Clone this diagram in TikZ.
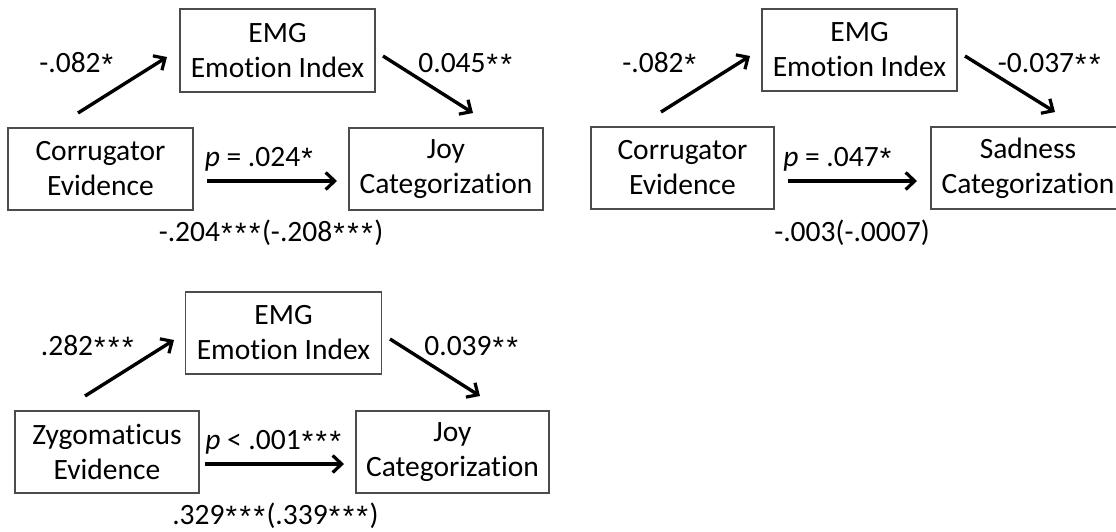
\documentclass[tikz,border=0pt]{standalone}
\usepackage{fontspec}
\setmainfont{Carlito}[Ligatures=NoCommon]
\newfontfamily\astfont{Liberation Sans}
\newcommand\sstar{\kern1pt\raisebox{-2pt}{\astfont *}\kern1.5pt}
\usetikzlibrary{arrows.meta}
\begin{document}
\begin{tikzpicture}[x=1pt,y=-1pt,
  box/.style={draw=black!70, line width=1.3pt, rectangle, inner sep=0pt, align=center,
    font=\fontsize{29.5}{35}\selectfont},
  lbl/.style={anchor=base, inner sep=0pt, font=\fontsize{29.5}{35}\selectfont},
  arr/.style={line width=3.4pt, -{Straight Barb[length=9pt,width=17pt,line width=3.2pt]}}]
\useasboundingbox (0,0) rectangle (1116,531);
\clip (0,0) rectangle (1116,531);
% ---------- Diagram 1 ----------
\node[box, minimum width=195pt, minimum height=83pt] (emg1) at (277.5,50.5) {EMG\\Emotion Index};
\node[box, minimum width=185pt, minimum height=82pt] (cor1) at (100.5,169) {Corrugator\\Evidence};
\node[box, minimum width=194pt, minimum height=82pt] (joy1) at (446,169) {Joy\\Categorization};
\coordinate (u1s) at (78,113);  \coordinate (u1e) at (167,57);
\coordinate (d1s) at (383,56);  \coordinate (d1e) at (473,113);
\coordinate (h1s) at (207,181); \coordinate (h1e) at (337,181);
\draw[arr] (u1s) -- (u1e);
\draw[arr] (d1s) -- (d1e);
\draw[arr] (h1s) -- (h1e);
\node[lbl] (a1) at (77,72) {-.082\sstar};
\node[lbl] (b1) at (466,72) {0.045\sstar\sstar};
\node[lbl] (p1) at (259.5,166) {\textit{p} = .024\sstar};
\node[lbl] (c1) at (271,241) {-.204\sstar\sstar\sstar(-.208\sstar\sstar\sstar)};
% ---------- Diagram 2 ----------
\node[box, minimum width=195pt, minimum height=82pt] (emg2) at (859.5,50) {EMG\\Emotion Index};
\node[box, minimum width=183pt, minimum height=82pt] (cor2) at (682.5,168) {Corrugator\\Evidence};
\node[box, minimum width=194pt, minimum height=82pt] (sad2) at (1028,168) {Sadness\\Categorization};
\coordinate (u2s) at (661,112);  \coordinate (u2e) at (750,56);
\coordinate (d2s) at (965,56);   \coordinate (d2e) at (1055,112);
\coordinate (h2s) at (788,181);  \coordinate (h2e) at (917,181);
\draw[arr] (u2s) -- (u2e);
\draw[arr] (d2s) -- (d2e);
\draw[arr] (h2s) -- (h2e);
\node[lbl] (a2) at (660,72) {-.082\sstar};
\node[lbl] (b2) at (1050,72) {-0.037\sstar\sstar};
\node[lbl] (p2) at (838,166) {\textit{p} = .047\sstar};
\node[lbl] (c2) at (852,241) {-.003(-.0007)};
% ---------- Diagram 3 ----------
\node[box, minimum width=196pt, minimum height=82pt] (emg3) at (283.5,333) {EMG\\Emotion Index};
\node[box, minimum width=184pt, minimum height=82pt] (zyg3) at (107,452) {Zygomaticus\\Evidence};
\node[box, minimum width=193pt, minimum height=82pt] (joy3) at (452.5,452) {Joy\\Categorization};
\coordinate (u3s) at (85,396);   \coordinate (u3e) at (174,340);
\coordinate (d3s) at (390,339);  \coordinate (d3e) at (480,396);
\coordinate (h3s) at (205,464);  \coordinate (h3e) at (344,464);
\draw[arr] (u3s) -- (u3e);
\draw[arr] (d3s) -- (d3e);
\draw[arr] (h3s) -- (h3e);
\node[lbl] (a3) at (88,355) {.282\sstar\sstar\sstar};
\node[lbl] (b3) at (472,355) {0.039\sstar\sstar};
\node[lbl] (p3) at (274,449) {\textit{p} < .001\sstar\sstar\sstar};
\node[lbl] (c3) at (275.5,524) {.329\sstar\sstar\sstar(.339\sstar\sstar\sstar)};
\end{tikzpicture}
\end{document}
